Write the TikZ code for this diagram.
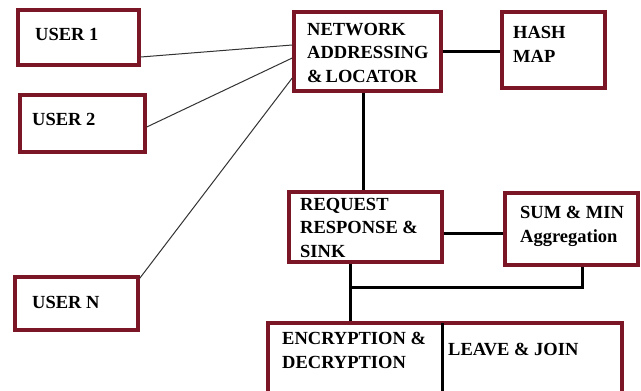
\documentclass[tikz,border=0pt]{standalone}
\usepackage{fontspec}
\setmainfont{Liberation Serif}
\definecolor{maroon}{HTML}{7A1626}
\definecolor{usrline}{HTML}{333333}
\begin{document}
\begin{tikzpicture}[x=1pt,y=-1pt,
  box/.style={draw=maroon, line width=3.5pt, fill=white, rectangle, inner sep=0pt},
  txt/.style={anchor=base west, inner sep=0pt, align=left, font=\fontsize{18.5}{23.5}\selectfont\bfseries},
  link/.style={draw=black, line width=3pt},
  ulink/.style={draw=usrline, line width=1pt}]
\clip (0,0) rectangle (641,391);
\fill[white] (0,0) rectangle (641,391);
% boxes
\node[box, minimum width=121pt, minimum height=55pt] (u1) at (78.5,37.5) {};
\node[box, minimum width=125pt, minimum height=57pt] (u2) at (82.5,123.5) {};
\node[box, minimum width=123pt, minimum height=53pt] (uN) at (76.5,303.5) {};
\node[box, minimum width=147pt, minimum height=79pt] (na) at (367.5,51.5) {};
\node[box, minimum width=103pt, minimum height=76pt] (hm) at (553.5,50) {};
\node[box, minimum width=153pt, minimum height=70pt] (rq) at (365.5,227) {};
\node[box, minimum width=133pt, minimum height=72pt] (sm) at (571.5,229) {};
\node[box, minimum width=354pt, minimum height=80pt] (bt) at (445,363) {};
\coordinate (j) at (350,287);
\coordinate (dv) at (442,323);
\coordinate (dvb) at (442,400);
% texts (anchor = baseline of last line)
\node[txt] (t1) at (35,40) {USER 1};
\node[txt] (t2) at (32,125) {USER 2};
\node[txt] (tN) at (32,308) {USER N};
\node[txt] (tna) at (307,82) {NETWORK\\ADDRESSING\\\&\,LOCATOR};
\node[txt] (thm) at (513,62) {HASH\\MAP};
\node[txt] (trq) at (300,257) {REQUEST\\RESPONSE \&\\SINK};
\node[txt] (tsm) at (520,242) {SUM \& MIN\\Aggregation};
\node[txt] (ten) at (282,368) {ENCRYPTION \&\\DECRYPTION};
\node[txt] (tlj) at (448,355) {LEAVE \& JOIN};
% user connectors
\draw[ulink] ([yshift=-19.5pt]u1.east) -- ([yshift=6.5pt]na.west);
\draw[ulink] ([yshift=-3.5pt]u2.east) -- ([yshift=-6.5pt]na.west);
\draw[ulink] ([yshift=-3pt]uN.north east) -- ([yshift=-26.5pt]na.west);
% solid connectors
\draw[link] (na.east) -- (na.east -| hm.west);
\draw[link] ([xshift=-4.5pt]na.south) -- ([xshift=-4.5pt]na.south |- rq.north);
\draw[link] ([yshift=-6pt]rq.east) -- ([yshift=-6pt]rq.east -| sm.west);
\draw[link] ([xshift=-15.5pt]rq.south) -- ([xshift=-15.5pt]rq.south |- bt.north);
\draw[link] ([xshift=10.5pt]sm.south) |- (j);
\draw[link] (dv) -- (dvb);
\end{tikzpicture}
\end{document}
